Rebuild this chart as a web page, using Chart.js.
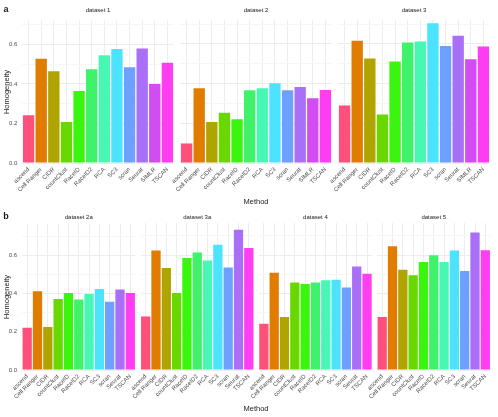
<!DOCTYPE html>
<html>
<head>
<meta charset="utf-8">
<script src="https://cdn.jsdelivr.net/npm/chart.js@4.4.0/dist/chart.umd.min.js"></script>
<style>
  html, body { margin: 0; padding: 0; background: #fff; }
  #wrap { position: relative; width: 498px; height: 417px; overflow: hidden; font-family: 'Liberation Sans', Arial, sans-serif; }
  #wrap canvas { position: absolute; }
  .txt { position: absolute; white-space: nowrap; color: #1a1a1a; transform: translate(-50%, -50%); }
  .tag { font-size: 9px; font-weight: bold; }
  .strip { font-size: 6px; }
  .axtitle { font-size: 7.5px; }
  .ytitle { transform: translate(-50%, -50%) rotate(-90deg); }
</style>
</head>
<body>
<div id="wrap"></div>
<script>
const methodsTop = ['ascend', 'Cell Ranger', 'CIDR', 'countClust', 'RaceID', 'RaceID2', 'RCA', 'SC3', 'scran', 'Seurat', 'SIMLR', 'TSCAN'];
const methodsBottom = ['ascend', 'Cell Ranger', 'CIDR', 'countClust', 'RaceID', 'RaceID2', 'RCA', 'SC3', 'scran', 'Seurat', 'TSCAN'];

// homogeneity per method
const dataset1 = [0.242, 0.528, 0.465, 0.207, 0.365, 0.475, 0.545, 0.577, 0.485, 0.580, 0.400, 0.507];
const dataset2 = [0.098, 0.377, 0.207, 0.253, 0.220, 0.367, 0.377, 0.402, 0.367, 0.383, 0.327, 0.368];
const dataset3 = [0.290, 0.617, 0.527, 0.245, 0.512, 0.607, 0.612, 0.705, 0.590, 0.642, 0.523, 0.587];
const dataset2a = [0.222, 0.412, 0.225, 0.372, 0.403, 0.369, 0.398, 0.424, 0.358, 0.422, 0.403];
const dataset3a = [0.279, 0.623, 0.532, 0.402, 0.585, 0.613, 0.571, 0.653, 0.535, 0.732, 0.636];
const dataset4 = [0.241, 0.507, 0.277, 0.457, 0.449, 0.457, 0.468, 0.471, 0.431, 0.540, 0.502];
const dataset5 = [0.277, 0.646, 0.523, 0.494, 0.563, 0.599, 0.563, 0.623, 0.516, 0.717, 0.625];

const yTickLabels = ['0.0', '0.2', '0.4', '0.6'];

const methodColors = {
  'ascend': '#FF4F7B',
  'Cell Ranger': '#E07C00',
  'CIDR': '#B0A400',
  'countClust': '#68D800',
  'RaceID': '#3AF50E',
  'RaceID2': '#40F26A',
  'RCA': '#48F7B4',
  'SC3': '#4CE3FF',
  'scran': '#6DA0FF',
  'Seurat': '#A970F7',
  'SIMLR': '#D24CF2',
  'TSCAN': '#FF3DF2'
};

const FONT = "'Liberation Sans', Arial, sans-serif";
const PADL = 20, PADR = 4, PADT = 8, XAXIS_H = 40, YAXIS_W = 14;

const rows = [
  { top: 20, bottom: 163, yMax: 0.721, stripY: 10, methodY: 201, tag: 'a' },
  { top: 223, bottom: 370, yMax: 0.767, stripY: 217, methodY: 408, tag: 'b' }
];

const panels = [
  { title: 'dataset 1', labels: methodsTop, values: dataset1, row: 0, left: 21, width: 154, first: true },
  { title: 'dataset 2', labels: methodsTop, values: dataset2, row: 0, left: 179, width: 154 },
  { title: 'dataset 3', labels: methodsTop, values: dataset3, row: 0, left: 337, width: 154 },
  { title: 'dataset 2a', labels: methodsBottom, values: dataset2a, row: 1, left: 21, width: 115.5, first: true },
  { title: 'dataset 3a', labels: methodsBottom, values: dataset3a, row: 1, left: 139.5, width: 115.5 },
  { title: 'dataset 4', labels: methodsBottom, values: dataset4, row: 1, left: 257.7, width: 115.5 },
  { title: 'dataset 5', labels: methodsBottom, values: dataset5, row: 1, left: 376, width: 115.5 }
];

const wrap = document.getElementById('wrap');

function addText(text, cls, x, y) {
  const d = document.createElement('div');
  d.className = 'txt ' + cls;
  d.textContent = text;
  d.style.left = x + 'px';
  d.style.top = y + 'px';
  wrap.appendChild(d);
}

function isMajor(v) {
  return Math.round(v * 10) % 2 === 0;
}

panels.forEach(function(p) {
  const row = rows[p.row];
  const n = p.labels.length;
  const unit = p.width / (n + 0.2);
  const inset = 0.1 * unit;
  const base = Math.floor(p.left);
  const frac = p.left - base;
  const plotH = row.bottom - row.top;
  const cw = Math.ceil(PADL + frac + p.width + PADR);
  const ch = PADT + plotH + XAXIS_H;
  const yw = p.first ? YAXIS_W : 0;

  const cv = document.createElement('canvas');
  cv.width = cw;
  cv.height = ch;
  cv.style.width = cw + 'px';
  cv.style.height = ch + 'px';
  cv.style.left = (base - PADL) + 'px';
  cv.style.top = (row.top - PADT) + 'px';
  wrap.appendChild(cv);

  new Chart(cv, {
    type: 'bar',
    data: {
      labels: p.labels,
      datasets: [{
        data: p.values,
        backgroundColor: p.labels.map(function(m) { return methodColors[m]; }),
        borderWidth: 0,
        barPercentage: 0.9,
        categoryPercentage: 1
      }]
    },
    options: {
      responsive: false,
      animation: false,
      devicePixelRatio: 1,
      layout: {
        padding: {
          left: PADL + frac + inset - yw,
          right: cw - PADL - frac - p.width + inset,
          top: PADT,
          bottom: 0
        }
      },
      plugins: {
        legend: { display: false },
        tooltip: { enabled: false }
      },
      scales: {
        x: {
          grid: { offset: false, color: '#EDEDED', drawTicks: false },
          border: { display: false },
          ticks: {
            autoSkip: false,
            minRotation: 45,
            maxRotation: 45,
            padding: 3,
            color: '#4D4D4D',
            font: { size: 6, family: FONT }
          },
          afterFit: function(s) { s.height = XAXIS_H; }
        },
        y: {
          min: 0,
          max: row.yMax,
          grid: {
            drawTicks: false,
            color: function(ctx) { return ctx.tick && isMajor(ctx.tick.value) ? '#EDEDED' : '#F6F6F6'; }
          },
          border: { display: false },
          ticks: {
            display: !!p.first,
            autoSkip: false,
            stepSize: 0.1,
            includeBounds: false,
            padding: 5,
            color: '#4D4D4D',
            font: { size: 6, family: FONT },
            callback: function(v) {
              const i = Math.round(v * 10);
              return i % 2 === 0 ? yTickLabels[i / 2] : '';
            }
          },
          afterFit: function(s) { s.width = yw; }
        }
      }
    }
  });

  addText(p.title, 'strip', p.left + p.width / 2, row.stripY);
});

rows.forEach(function(row) {
  addText(row.tag, 'tag', 6, row.stripY - 1);
  addText('Homogeneity', 'axtitle ytitle', 6, (row.top + row.bottom) / 2);
  addText('Method', 'axtitle', 256, row.methodY);
});
</script>
</body>
</html>
